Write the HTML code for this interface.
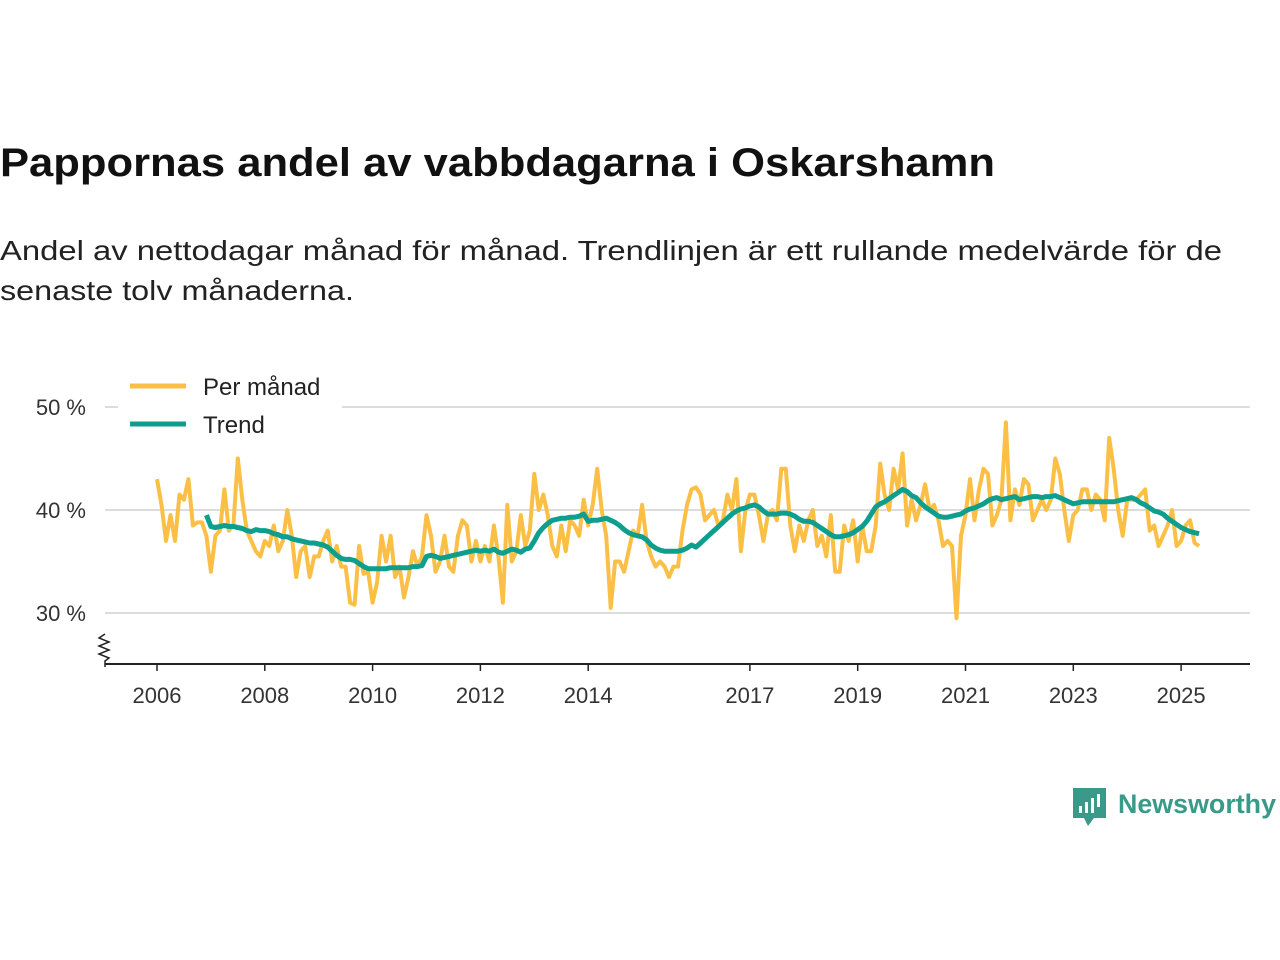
<!DOCTYPE html>
<html><head><meta charset="utf-8"><style>
html,body{margin:0;padding:0;background:#fff;}
svg{display:block;font-family:"Liberation Sans",sans-serif;}
</style></head><body>
<svg id="chart" width="1280" height="960" viewBox="0 0 1280 960">
<text x="0" y="176" font-size="40" font-weight="bold" fill="#111" textLength="995" lengthAdjust="spacingAndGlyphs">Pappornas andel av vabbdagarna i Oskarshamn</text>
<text x="0" y="260" font-size="28" fill="#222" textLength="1222" lengthAdjust="spacingAndGlyphs">Andel av nettodagar månad för månad. Trendlinjen är ett rullande medelvärde för de</text>
<text x="0" y="300" font-size="28" fill="#222" textLength="354" lengthAdjust="spacingAndGlyphs">senaste tolv månaderna.</text>
<g id="grid"></g>
<g id="yaxis"></g>
<g id="xaxis"></g>
<g id="series"></g>
<g>
<rect x="118" y="370" width="224" height="70" fill="#fff"/>
<line x1="130" y1="386" x2="186" y2="386" stroke="#fbbf45" stroke-width="5"/>
<text x="203" y="395" font-size="24" fill="#222">Per månad</text>
<line x1="130" y1="424" x2="186" y2="424" stroke="#0e9e8e" stroke-width="5"/>
<text x="203" y="433" font-size="24" fill="#222">Trend</text>
</g>
<g>
<path d="M1073 788h33v30h-12l-6 8-4-8h-11z" fill="#3a9a8a"/>
<rect x="1079" y="806" width="3" height="7" fill="#fff"/><rect x="1085" y="802" width="3" height="11" fill="#fff"/><rect x="1091" y="798" width="3" height="15" fill="#fff"/><rect x="1097" y="794" width="3" height="13" fill="#fff"/>
<text x="1118" y="813" font-size="27" font-weight="bold" fill="#3a9a8a" textLength="158" lengthAdjust="spacingAndGlyphs">Newsworthy</text>
</g>
</svg>
<script>
const startYear = 2006;
const monthly = [
43,40.5,37,39.5,37,41.5,41,43,38.5,38.8,38.8,37.5,
34,37.5,38,42,38,38.5,45,41,38,37,36,35.5,
37,36.5,38.5,36,37,40,37.5,33.5,36,36.5,33.5,35.5,
35.5,37,38,35,36.5,34.5,34.5,31,30.8,36.5,33.8,34,
31,33,37.5,35,37.5,33.5,34.5,31.5,33.5,36,34.5,35.5,
39.5,37.5,34,35,37.5,34.5,34,37.5,39,38.5,35,37,
35,36.5,35,38.5,35.5,31,40.5,35,36,39.5,36.5,38,
43.5,40,41.5,39.5,36.5,35.5,38.5,36,39,38.5,37.5,41,
38.5,40.5,44,40,37.5,30.5,35,35,34,36,38,37.5,
40.5,37,35.5,34.5,35,34.5,33.5,34.5,34.5,38,40.5,42,
42.2,41.5,39,39.5,40,38.5,39,41.5,40,43,36,40,
41.5,41.5,39.5,37,39.5,40,39,44,44,38.5,36,38.5,
37,39,40,36.5,37.5,35.5,39.5,34,34,38.5,37,39,
35,38.5,36,36,38.5,44.5,41.5,40,44,42,45.5,38.5,
41,39,40.5,42.5,40,40.5,39,36.5,37,36.5,29.5,37.5,
39.5,43,39,42,44,43.5,38.5,39.5,41,48.5,39,42,
40.5,43,42.5,39,40,41,40,41,45,43.5,40,37,
39.5,40,42,42,40,41.5,41,39,47,44,40,37.5,
41,41,41,41.5,42,38,38.5,36.5,37.5,38.5,40,36.5,
37,38.5,39,36.8,36.5
];
// trend starts at month index 11 (Dec 2006)
const trendStart = 11;
const trend = [
39.5,
38.4,38.3,38.4,38.5,38.4,38.4,38.3,38.2,38.0,37.9,38.1,38.0,
38.0,37.9,37.7,37.6,37.4,37.4,37.2,37.1,37.0,36.9,36.8,36.8,
36.7,36.6,36.4,36.0,35.6,35.3,35.2,35.2,35.1,34.8,34.5,34.3,
34.3,34.3,34.3,34.3,34.4,34.4,34.4,34.4,34.4,34.5,34.5,34.6,
35.5,35.6,35.5,35.3,35.4,35.5,35.6,35.7,35.8,35.9,36.0,36.1,
36.0,36.1,36.0,36.2,35.9,35.8,36.0,36.2,36.1,35.9,36.2,36.3,
37.0,37.8,38.3,38.7,39.0,39.1,39.2,39.2,39.3,39.3,39.4,39.6,
38.9,39.0,39.0,39.1,39.2,39.0,38.8,38.5,38.1,37.8,37.6,37.5,
37.4,37.1,36.6,36.3,36.1,36.0,36.0,36.0,36.0,36.1,36.3,36.6,
36.4,36.8,37.2,37.6,38.0,38.4,38.8,39.2,39.6,39.9,40.1,40.2,
40.4,40.5,40.3,39.9,39.6,39.6,39.6,39.7,39.7,39.6,39.4,39.1,
38.9,38.9,38.8,38.5,38.2,37.9,37.6,37.4,37.4,37.5,37.6,37.8,
38.1,38.4,38.9,39.6,40.3,40.6,40.8,41.1,41.4,41.7,42.0,41.8,
41.4,41.2,40.7,40.3,40.0,39.7,39.4,39.3,39.3,39.4,39.5,39.6,
39.9,40.1,40.2,40.4,40.6,40.9,41.1,41.2,41.0,41.1,41.2,41.3,
41.0,41.1,41.2,41.3,41.3,41.2,41.3,41.3,41.4,41.2,41.0,40.8,
40.6,40.7,40.8,40.8,40.8,40.8,40.8,40.8,40.8,40.8,40.9,41.0,
41.1,41.2,41.0,40.7,40.5,40.2,39.9,39.8,39.6,39.2,38.9,38.6,
38.3,38.1,37.9,37.8,37.7
];
const yTicks = [30,40,50];
const yTickLabels = ["30 %","40 %","50 %"];
const xTicks = [2006,2008,2010,2012,2014,2017,2019,2021,2023,2025];

const NS="http://www.w3.org/2000/svg";
const x0=157, pxPerYear=53.9, y50=407, pxPerPct=10.3;
const xs = t => x0 + (t-startYear)*pxPerYear;
const ys = v => y50 + (50-v)*pxPerPct;
function mk(tag, attrs, parent){const e=document.createElementNS(NS,tag);for(const k in attrs)e.setAttribute(k,attrs[k]);parent.appendChild(e);return e;}

const grid=document.getElementById('grid'), ya=document.getElementById('yaxis'), xa=document.getElementById('xaxis'), ser=document.getElementById('series');
yTicks.forEach((v,i)=>{
  const l=mk('line',{x1:105,x2:1250,y1:ys(v),y2:ys(v),stroke:'#dcdcdc','stroke-width':2},grid);
  
  
  const t=mk('text',{x:86,y:ys(v)+8,'font-size':22,fill:'#333','text-anchor':'end'},ya);
  t.textContent=yTickLabels[i];
  
  
});
mk('path',{d:'M105 634 l-6 4 l10 4 l-10 4 l10 4 l-10 4 l10 4 l-4 3 v6',fill:'none',stroke:'#222','stroke-width':1.5},ya);
const ax=mk('line',{x1:105,x2:1250,y1:664,y2:664,stroke:'#222','stroke-width':2},xa);


xTicks.forEach(yr=>{
  mk('line',{x1:xs(yr),x2:xs(yr),y1:664,y2:671,stroke:'#222','stroke-width':1.5},xa);
  const t=mk('text',{x:xs(yr),y:703,'font-size':22,fill:'#333','text-anchor':'middle'},xa);
  t.textContent=yr;
  
  
});
const mx = i => xs(startYear + i/12);
const mPts = monthly.map((v,i)=>mx(i).toFixed(1)+','+ys(v).toFixed(1)).join(' ');
const mLine=mk('polyline',{points:mPts,fill:'none',stroke:'#fbbf45','stroke-width':4,'stroke-linejoin':'round'},ser);


const tPts = trend.map((v,i)=>mx(i+trendStart).toFixed(1)+','+ys(v).toFixed(1)).join(' ');
const tLine=mk('polyline',{points:tPts,fill:'none',stroke:'#0e9e8e','stroke-width':5,'stroke-linejoin':'round'},ser);


</script>
</body></html>
